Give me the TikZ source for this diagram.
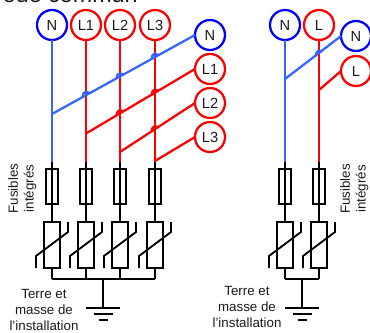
\documentclass[tikz,border=0pt]{standalone}
\usepackage{fontspec}
\setmainfont{Liberation Sans}
\definecolor{wblue}{HTML}{3366FF}
\definecolor{cblue}{HTML}{0000FF}
\definecolor{cred}{HTML}{FF0000}
\definecolor{ink}{HTML}{1A1A1A}
\tikzset{
  x=0.75pt,y=-0.75pt,
  term/.style={circle,draw,line width=1.7pt,minimum size=22.5pt,inner sep=0pt,outer sep=0pt,text=ink,font=\fontsize{11}{13}\selectfont},
  tblue/.style={term,draw=cblue},
  tred/.style={term,draw=cred},
  bw/.style={line width=1.7pt,color=wblue},
  rw/.style={line width=1.7pt,color=cred},
  kw/.style={line width=1.4pt,color=black},
  fuse/.style={draw=black,line width=1.4pt,minimum width=9pt,minimum height=26.25pt,inner sep=0pt,outer sep=0pt},
  vari/.style={draw=black,line width=1.4pt,minimum width=12pt,minimum height=34.5pt,inner sep=0pt,outer sep=0pt},
  lbl/.style={text=ink,font=\fontsize{10}{12}\selectfont,align=center,inner sep=0pt},
  lblr/.style={lbl,rotate=90},
}
\newcommand{\hopat}[4]{\draw[#1] (#2-3.5,#3+#4*3.5) .. controls (#2-3,#3-3.5) and (#2,#3-4) .. (#2+3.5,#3-#4*3.5);}
\newcommand{\sym}[2]{% x, name index
  \coordinate (t#2) at (#1,162);
  \node[fuse] (f#2) at (#1,186.5) {};
  \node[vari] (v#2) at (#1,245) {};
  \coordinate (b#2) at (#1,279);
  \draw[kw] (t#2) -- (f#2.north) -- (f#2.south) -- (v#2.north);
  \draw[kw] (v#2.south) -- (b#2);
  \coordinate (p#2) at (#1-16,256);
  \coordinate (q#2) at (#1+16,232);
  \draw[kw] (#1-16,268) -- (p#2) -- (q#2) -- (#1+16,222);
}
\newcommand{\gnd}[2]{% x, name
  \coordinate (#2a) at (#1,279);
  \coordinate (#2b) at (#1,308);
  \draw[kw] (#2a) -- (#2b);
  \draw[kw] (#1-17,308) -- (#1+17,308);
  \draw[kw] (#1-9.5,314) -- (#1+9.5,314);
  \draw[kw] (#1-4.5,320) -- (#1+4.5,320);
}
\begin{document}
\begin{tikzpicture}
\useasboundingbox (0,0) rectangle (370,332);
% title, cut off by the top edge as in the reference
\node[anchor=base east,inner sep=0pt,text=ink,font=\fontsize{17.5}{20}\selectfont] (title) at (138,2.5) {ode commun};
% terminals
\node[tblue] (N) at (52,25) {N};
\node[tred] (L1) at (86,25) {L1};
\node[tred] (L2) at (120,25) {L2};
\node[tred] (L3) at (155,25) {L3};
\node[tblue] (rN) at (210,35) {N};
\node[tred] (rL1) at (210,69) {L1};
\node[tred] (rL2) at (210,103) {L2};
\node[tred] (rL3) at (210,137) {L3};
\node[tblue] (N2) at (285,25) {N};
\node[tred] (L) at (319,25) {L};
\node[tblue] (rN2) at (356,36) {N};
\node[tred] (rL) at (356,71) {L};
% surge protection branches
\sym{52}{1}
\sym{86}{2}
\sym{120}{3}
\sym{155}{4}
\sym{285}{5}
\sym{319}{6}
\draw[bw] (N) -- (t1);
\draw[rw] (L1) -- (t2);
\draw[rw] (L2) -- (t3);
\draw[rw] (L3) -- (t4);
\draw[bw] (N2) -- (t5);
\draw[rw] (L) -- (t6);
% diagonal feeds
\draw[bw] (52,114) -- (rN.west);
\draw[rw] (86,133.5) -- (rL1.west);
\draw[rw] (120,152) -- (rL2.west);
\draw[rw] (155,161) -- (rL3.west);
\draw[bw] (285,79) -- (rN2.west);
\draw[rw] (319,90) -- (rL.west);
% hops
\hopat{bw}{86}{95}{.55}
\hopat{bw}{120}{76.5}{.55}
\hopat{bw}{155}{57}{.55}
\hopat{rw}{120}{113.5}{.58}
\hopat{rw}{155}{93}{.58}
\hopat{rw}{155}{129.5}{.62}
\hopat{bw}{319}{54}{.72}
% buses and earth
\draw[kw] (b1) -- (b4);
\draw[kw] (b5) -- (b6);
\gnd{103}{g}
\gnd{302}{h}
% labels
\node[lblr] (fa) at (13,188.5) {Fusibles};
\node[lblr] (fb) at (30,188.5) {intégrés};
\node[lblr] (fc) at (345,189) {Fusibles};
\node[lblr] (fd) at (362,189) {intégrés};
\node[lbl] (ta) at (44,294) {Terre et};
\node[lbl] (tb) at (44,310) {masse de};
\node[lbl] (tc) at (44,326) {l'installation};
\node[lbl] (td) at (247,291) {Terre et};
\node[lbl] (te) at (247,307) {masse de};
\node[lbl] (tf) at (247,323) {l'installation};
\end{tikzpicture}
\end{document}
